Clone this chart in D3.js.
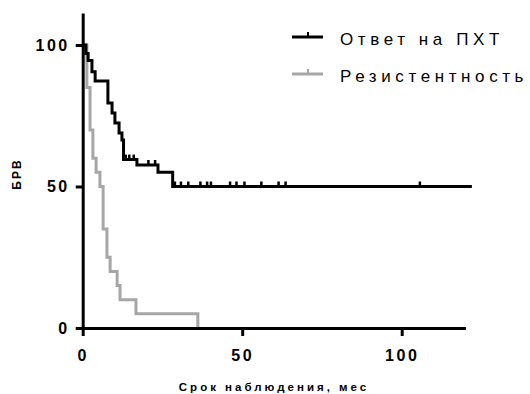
<!DOCTYPE html>
<html>
<head>
<meta charset="utf-8">
<script src="https://cdn.jsdelivr.net/npm/d3@7"></script>
<style>
  html, body { margin: 0; padding: 0; background: #fff; }
  svg { display: block; font-family: "Liberation Sans", Arial, sans-serif; }
</style>
</head>
<body>
<div id="chart"></div>
<script>
// Kaplan-Meier: "Ответ на ПХТ" (responders)
const respTimes = [0, 1.0, 1.7, 2.9, 3.9, 7.9, 9.2, 10.1, 11.4, 12.3, 12.8, 17.0, 23.6, 28.2, 122];
const respSurv  = [100, 97, 94.5, 90.5, 87.3, 79.5, 76, 72.4, 68.9, 66.4, 59.5, 57.6, 55, 50, 50];
const respCensored = [13.5, 14.6, 16, 20.6, 22.7, 28.9, 30.8, 33.1, 36.9, 39.0, 40.2,
                      46.2, 48.2, 50.7, 56.0, 61.4, 63.6, 105.7];

// "Резистентность" (resistant)
const resTimes = [0, 1.3, 2.3, 3.2, 4.2, 5.4, 6.4, 7.6, 8.6, 10.8, 11.7, 16.7, 36.1];
const resSurv  = [100, 85, 70, 60, 55, 50, 35, 25, 20, 15, 10, 5, 0];

const seriesNames = ["Ответ на ПХТ", "Резистентность"];
const seriesColors = ["#000000", "#a6a6a6"];
const xTicks = [0, 50, 100];
const yTicks = [0, 50, 100];

const width = 530, height = 394;

const svg = d3.select("#chart").append("svg")
  .attr("width", width)
  .attr("height", height);

const x = d3.scaleLinear().domain([0, 120]).range([82.7, 465.5]);
const y = d3.scaleLinear().domain([0, 111.3]).range([328, 13]);

const toPts = (ts, ss) => ts.map((t, i) => [t, ss[i]]);
const line = d3.line()
  .x(d => x(d[0]))
  .y(d => y(d[1]))
  .curve(d3.curveStepAfter);

// value of a step curve at time t
const survAt = (ts, ss, t) => {
  let v = ss[0];
  for (let i = 0; i < ts.length; i++) if (ts[i] <= t) v = ss[i];
  return v;
};

// curves
svg.append("path")
  .attr("d", line(toPts(resTimes, resSurv)))
  .attr("fill", "none")
  .attr("stroke", seriesColors[1])
  .attr("stroke-width", 3);

svg.append("path")
  .attr("d", line(toPts(respTimes, respSurv)))
  .attr("fill", "none")
  .attr("stroke", seriesColors[0])
  .attr("stroke-width", 3);

svg.selectAll("line.cens")
  .data(respCensored)
  .join("line")
  .attr("class", "cens")
  .attr("x1", d => x(d)).attr("x2", d => x(d))
  .attr("y1", d => y(survAt(respTimes, respSurv, d)))
  .attr("y2", d => y(survAt(respTimes, respSurv, d)) - 5)
  .attr("stroke", "#000")
  .attr("stroke-width", 2.5);

// axes
const xAxis = svg.append("g")
  .attr("transform", `translate(0,${y(0)})`)
  .call(d3.axisBottom(x).tickValues(xTicks).tickSize(8).tickPadding(14).tickSizeOuter(0));

const yAxis = svg.append("g")
  .attr("transform", `translate(${x(0)},0)`)
  .call(d3.axisLeft(y).tickValues(yTicks).tickSize(7).tickPadding(6).tickSizeOuter(0));

[xAxis, yAxis].forEach(g => {
  g.select(".domain").attr("stroke", "#000").attr("stroke-width", 3);
  g.selectAll(".tick line").attr("stroke", "#000").attr("stroke-width", 3);
  g.selectAll(".tick text")
    .attr("fill", "#000")
    .style("font-family", "'Liberation Sans', Arial, sans-serif")
    .style("font-size", "16px")
    .style("font-weight", "bold")
    .style("letter-spacing", "2.5px");
});

svg.append("text")
  .attr("x", 274)
  .attr("y", 391)
  .attr("text-anchor", "middle")
  .style("font-size", "11.5px")
  .style("font-weight", "bold")
  .style("letter-spacing", "3px")
  .text("Срок наблюдения, мес");

svg.append("text")
  .attr("transform", "translate(21,174) rotate(-90)")
  .attr("text-anchor", "middle")
  .style("font-size", "12px")
  .style("font-weight", "bold")
  .style("letter-spacing", "2px")
  .text("БРВ");

// legend
const legend = svg.append("g");
seriesNames.forEach((name, i) => {
  const ly = 37 + i * 37;
  legend.append("line")
    .attr("x1", 292).attr("x2", 323)
    .attr("y1", ly).attr("y2", ly)
    .attr("stroke", seriesColors[i]).attr("stroke-width", 3);
  legend.append("line")
    .attr("x1", 308).attr("x2", 308)
    .attr("y1", ly).attr("y2", ly - 5)
    .attr("stroke", seriesColors[i]).attr("stroke-width", 2);
  legend.append("text")
    .attr("x", 340)
    .attr("y", ly + 8)
    .style("font-size", "17px")
    .style("letter-spacing", "4.6px")
    .attr("fill", "#000")
    .text(name);
});
</script>
</body>
</html>
